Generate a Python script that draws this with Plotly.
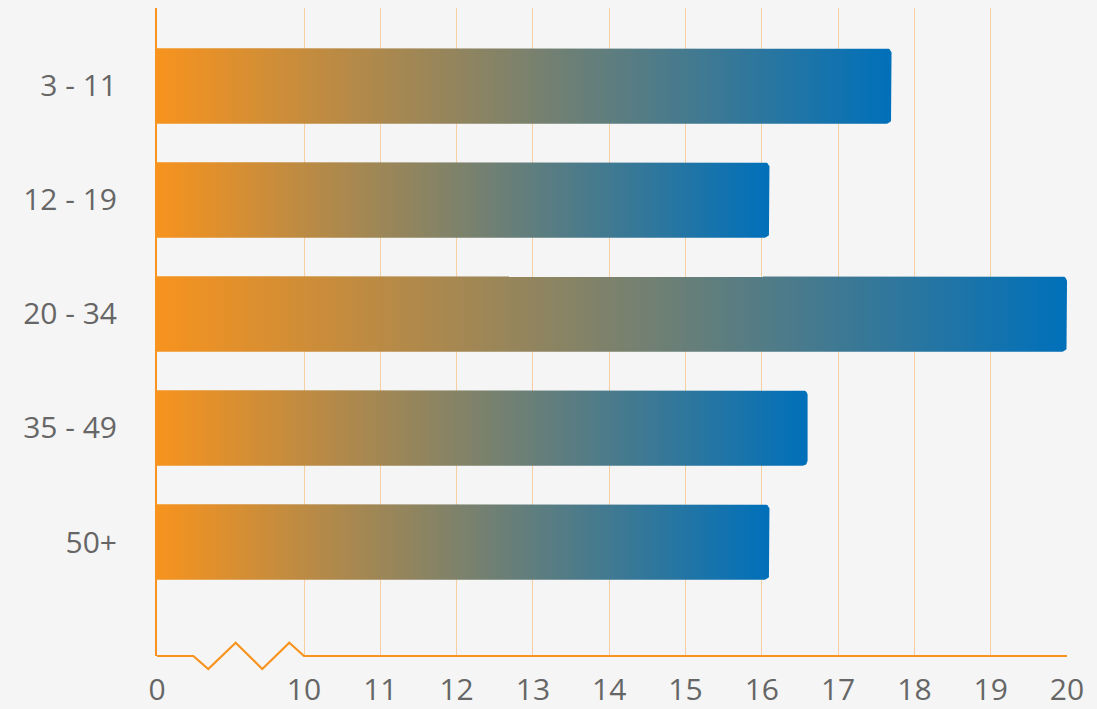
import numpy as np
import plotly.graph_objects as go

# data
age_groups = ["3 - 11", "12 - 19", "20 - 34", "35 - 49", "50+"]
values = [17.7, 16.1, 20.0, 16.6, 16.1]
x_ticks = [0, 10, 11, 12, 13, 14, 15, 16, 17, 18, 19, 20]

ORANGE = "#F7931E"
BLUE = "#0070BA"
BREAK_AT = 10
BREAK_WIDTH = 1.927  # on-screen width of the 0-10 segment, in axis units


def to_axis(v):
    # broken axis: 0..10 squeezed, then linear from 10
    return v / BREAK_AT * BREAK_WIDTH if v <= BREAK_AT else v - BREAK_AT + BREAK_WIDTH


def bar_outline(x_end, yc, half=0.331, rx=0.066, ry=0.044):
    # rectangle with rounded right corners
    t = np.linspace(0, np.pi / 2, 8)
    top_arc_x = x_end - rx + rx * np.sin(t)
    top_arc_y = yc - half + ry - ry * np.cos(t)
    bot_arc_x = x_end - rx + rx * np.cos(t)
    bot_arc_y = yc + half - ry + ry * np.sin(t)
    xs = [0] + list(top_arc_x) + list(bot_arc_x) + [0, 0]
    ys = [yc - half] + list(top_arc_y) + list(bot_arc_y) + [yc + half, yc - half]
    return xs, ys


fig = go.Figure()

for i, (grp, val) in enumerate(zip(age_groups, values)):
    xs, ys = bar_outline(to_axis(val), i)
    fig.add_trace(go.Scatter(
        x=xs, y=ys,
        mode="lines",
        fill="toself",
        line=dict(width=0),
        fillgradient=dict(type="horizontal", colorscale=[[0, ORANGE], [1, BLUE]]),
        name=grp,
        hoverinfo="skip",
        showlegend=False,
    ))

# x axis line with the break zigzag (x in axis units, y in paper units)
zig_x = [0, 0.476, 0.672, 1.031, 1.380, 1.734, BREAK_WIDTH, to_axis(20)]
zig_y = [0, 0, -0.020, 0.0205, -0.020, 0.0205, 0, 0]
zig_path = "M" + " L".join(f"{x},{y}" for x, y in zip(zig_x, zig_y))
fig.add_shape(
    type="path",
    path=zig_path,
    xref="x", yref="paper",
    line=dict(color=ORANGE, width=2.2),
    layer="above",
)

fig.update_layout(
    width=1097,
    height=709,
    paper_bgcolor="#F5F5F5",
    plot_bgcolor="#F5F5F5",
    margin=dict(l=157, r=30, t=8, b=53),
    font=dict(family="Open Sans", size=30, color="#666666"),
    xaxis=dict(
        range=[0, to_axis(20)],
        tickvals=[to_axis(v) for v in x_ticks],
        ticktext=[str(v) for v in x_ticks],
        showgrid=True,
        gridcolor="rgba(247,147,30,0.4)",
        gridwidth=1,
        zeroline=False,
        showline=False,
        ticklabelstandoff=13,
        automargin=False,
    ),
    yaxis=dict(
        range=[5.0, -0.684],
        tickvals=list(range(len(age_groups))),
        ticktext=age_groups,
        showgrid=False,
        zeroline=False,
        showline=True,
        linecolor=ORANGE,
        linewidth=2,
        ticklabelstandoff=32,
        automargin=False,
    ),
)

fig.write_html("out.html", config={"displayModeBar": False},
               post_script="document.body.style.margin='0';")
